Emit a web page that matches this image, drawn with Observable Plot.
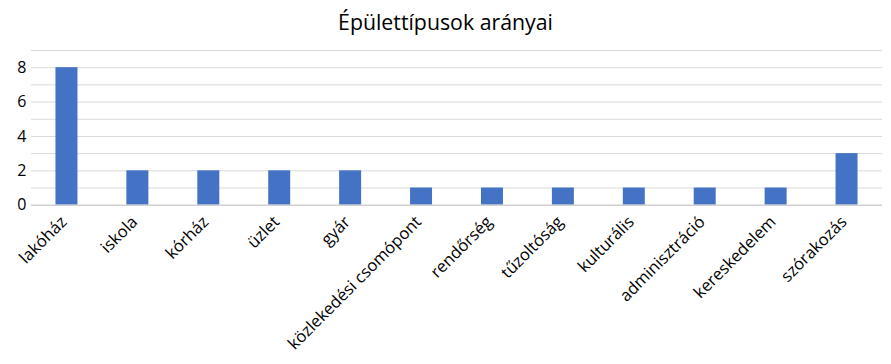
<!DOCTYPE html>
<html>
<head>
<meta charset="utf-8">
<script src="https://cdn.jsdelivr.net/npm/d3@7"></script>
<script src="https://cdn.jsdelivr.net/npm/@observablehq/plot@0.6"></script>
<style>
  body { margin: 0; background: #fff; }
  #title { height: 40px; line-height: 40px; text-align: center; font-family: "Open Sans", sans-serif; font-size: 21.3px; color: #000; padding-top: 2px; box-sizing: border-box; }
  #chart svg { display: block; }
</style>
</head>
<body>
<div id="title">Épülettípusok arányai</div>
<div id="chart"></div>
<script>
const categories = ["lakóház", "iskola", "kórház", "üzlet", "gyár", "közlekedési csomópont", "rendőrség", "tűzoltóság", "kulturális", "adminisztráció", "kereskedelem", "szórakozás"];
const values = [8, 2, 2, 2, 2, 1, 1, 1, 1, 1, 1, 3];
const yTicks = [0, 2, 4, 6, 8];
const gridTicks = [1, 2, 3, 4, 5, 6, 7, 8, 9];

const data = categories.map((c, i) => ({category: c, value: values[i]}));

const chart = Plot.plot({
  width: 891,
  height: 324,
  marginTop: 10,
  marginBottom: 159.3,
  marginLeft: 31,
  marginRight: 9,
  style: {fontFamily: "'Open Sans', sans-serif", fontSize: "15px", color: "#000", background: "#fff"},
  x: {domain: categories, paddingInner: 0.69, paddingOuter: 0.345, round: false, label: null},
  y: {domain: [0, 9], label: null},
  marks: [
    Plot.ruleY(gridTicks, {stroke: "#d9d9d9", strokeWidth: 1}),
    Plot.barY(data, {x: "category", y: "value", fill: "#4472c4"}),
    Plot.ruleY([0], {stroke: "#d0d0d0", strokeWidth: 1.5}),
    Plot.axisY({ticks: yTicks, tickSize: 0, tickPadding: 5, label: null, fontSize: 16}),
    Plot.axisX({tickSize: 0, tickPadding: 8, tickRotate: -45, dx: -3, dy: 6, label: null, fontSize: 16.5})
  ]
});
document.getElementById("chart").appendChild(chart);
</script>
</body>
</html>
